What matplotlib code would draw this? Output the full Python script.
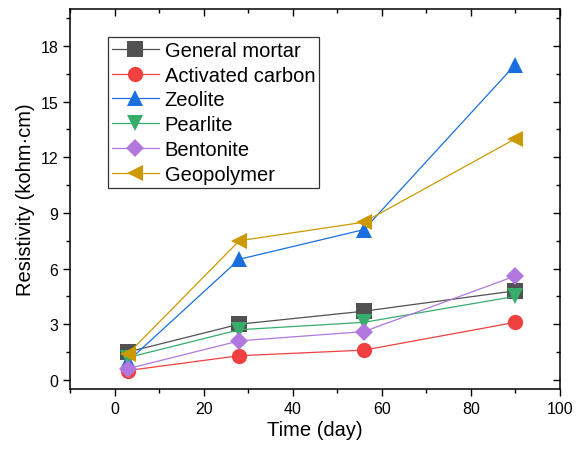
import matplotlib
matplotlib.use('Agg')
import matplotlib.pyplot as plt
from matplotlib.ticker import MultipleLocator

plt.rcParams['font.family'] = ['Liberation Sans', 'DejaVu Sans']

# Data
days = [3, 28, 56, 90]
general_mortar = [1.5, 3.0, 3.7, 4.8]
activated_carbon = [0.5, 1.3, 1.6, 3.1]
zeolite = [1.0, 6.5, 8.1, 17.0]
pearlite = [1.2, 2.7, 3.1, 4.5]
bentonite = [0.6, 2.1, 2.6, 5.6]
geopolymer = [1.4, 7.5, 8.5, 13.0]

series = [
    ("General mortar", general_mortar, '#515151', 's'),
    ("Activated carbon", activated_carbon, '#F14040', 'o'),
    ("Zeolite", zeolite, '#1A6FDF', '^'),
    ("Pearlite", pearlite, '#37AD6B', 'v'),
    ("Bentonite", bentonite, '#B177DE', 'D'),
    ("Geopolymer", geopolymer, '#CC9900', '<'),
]

fig = plt.figure(figsize=(5.79, 4.52), dpi=100)
ax = fig.add_axes([0.121, 0.137, 0.846, 0.841])

for name, vals, col, mk in series:
    ms = 9 if mk == 'D' else 11
    ax.plot(days, vals, color=col, lw=0.9, marker=mk, markersize=ms,
            markeredgewidth=0, label=name)

ax.set_xlim(-10, 100)
ax.set_ylim(-0.5, 20)
ax.xaxis.set_major_locator(MultipleLocator(20))
ax.xaxis.set_minor_locator(MultipleLocator(10))
ax.yaxis.set_major_locator(MultipleLocator(3))
ax.yaxis.set_minor_locator(MultipleLocator(1.5))

ax.tick_params(axis='both', which='both', direction='out', labelsize=11.5,
               width=1, top=False, right=False)
ax.tick_params(which='major', length=5)
ax.tick_params(which='minor', length=3)
# mirrored inward ticks on top/right
ax.tick_params(axis='x', which='both', top=True)
ax.tick_params(axis='y', which='both', right=True)
for t in ax.xaxis.get_major_ticks() + ax.xaxis.get_minor_ticks():
    t.tick2line.set_marker(3)
for t in ax.yaxis.get_major_ticks() + ax.yaxis.get_minor_ticks():
    t.tick2line.set_marker(0)

for sp in ax.spines.values():
    sp.set_linewidth(1.1)

ax.set_xlabel("Time (day)", fontsize=14.5, labelpad=3)
ax.set_ylabel("Resistivity (kohm·cm)", fontsize=14.5, labelpad=4)

leg = ax.legend(loc='upper left', bbox_to_anchor=(0.078, 0.927), fontsize=14.5,
                frameon=True, fancybox=False, edgecolor='black',
                handlelength=2.3, handletextpad=0.3, labelspacing=0.29,
                borderpad=0.2, borderaxespad=0)
leg.get_frame().set_linewidth(0.9)

fig.savefig('out.png', dpi=100)
